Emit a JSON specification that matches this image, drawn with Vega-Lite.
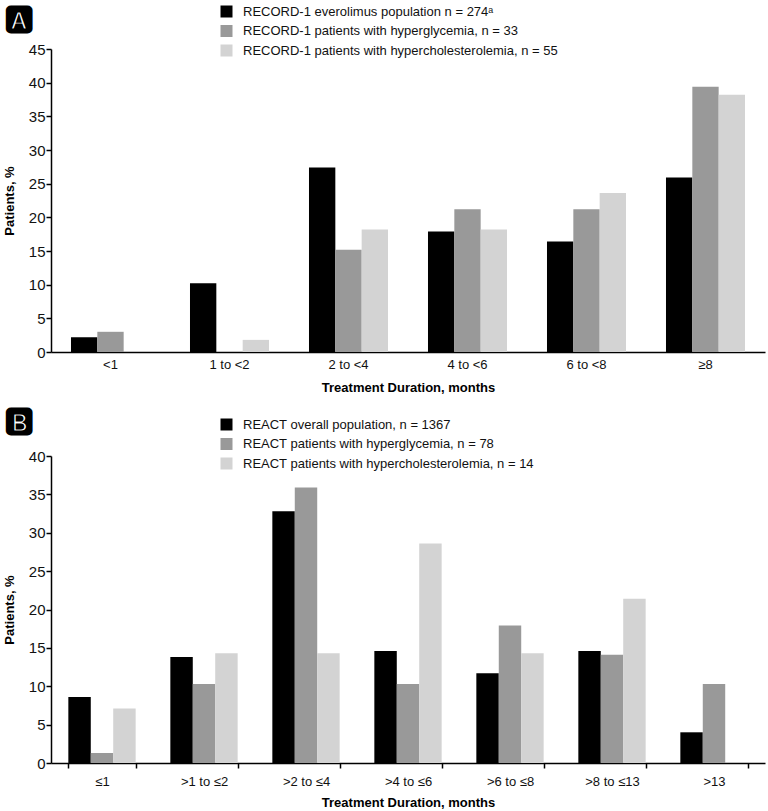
{
  "$schema": "https://vega.github.io/schema/vega-lite/v6.json",
  "padding": {"left": 3, "top": 3, "right": 2, "bottom": 2},
  "spacing": 11,
  "config": {
    "font": "Liberation Sans",
    "view": {"stroke": null},
    "axis": {"labelFont": "Liberation Sans", "labelFontSize": 13, "labelColor": "#111111", "titleFont": "Liberation Sans", "titleFontSize": 13, "titleFontWeight": "bold", "titleColor": "#000000", "domainColor": "#000000", "domainWidth": 1.5, "tickColor": "#000000", "tickWidth": 1.5, "grid": false},
    "legend": {"labelFont": "Liberation Sans", "labelFontSize": 13, "labelColor": "#111111", "symbolType": "square", "symbolSize": 144, "symbolStrokeWidth": 0, "rowPadding": 5.5, "labelOffset": 10, "padding": 0, "labelLimit": 500},
    "title": {"font": "DejaVu Sans", "fontSize": 32, "anchor": "start", "frame": "bounds", "color": "#000000", "dx": 1}
  },
  "datasets": {
    "a": [
      {"duration": "<1", "series": "RECORD-1 everolimus population n = 274ᵃ", "pct": 2.2},
      {"duration": "<1", "series": "RECORD-1 patients with hyperglycemia, n = 33", "pct": 3.0},
      {"duration": "<1", "series": "RECORD-1 patients with hypercholesterolemia, n = 55", "pct": 0},
      {"duration": "1 to <2", "series": "RECORD-1 everolimus population n = 274ᵃ", "pct": 10.2},
      {"duration": "1 to <2", "series": "RECORD-1 patients with hyperglycemia, n = 33", "pct": 0},
      {"duration": "1 to <2", "series": "RECORD-1 patients with hypercholesterolemia, n = 55", "pct": 1.8},
      {"duration": "2 to <4", "series": "RECORD-1 everolimus population n = 274ᵃ", "pct": 27.4},
      {"duration": "2 to <4", "series": "RECORD-1 patients with hyperglycemia, n = 33", "pct": 15.2},
      {"duration": "2 to <4", "series": "RECORD-1 patients with hypercholesterolemia, n = 55", "pct": 18.2},
      {"duration": "4 to <6", "series": "RECORD-1 everolimus population n = 274ᵃ", "pct": 17.9},
      {"duration": "4 to <6", "series": "RECORD-1 patients with hyperglycemia, n = 33", "pct": 21.2},
      {"duration": "4 to <6", "series": "RECORD-1 patients with hypercholesterolemia, n = 55", "pct": 18.2},
      {"duration": "6 to <8", "series": "RECORD-1 everolimus population n = 274ᵃ", "pct": 16.4},
      {"duration": "6 to <8", "series": "RECORD-1 patients with hyperglycemia, n = 33", "pct": 21.2},
      {"duration": "6 to <8", "series": "RECORD-1 patients with hypercholesterolemia, n = 55", "pct": 23.6},
      {"duration": "≥8", "series": "RECORD-1 everolimus population n = 274ᵃ", "pct": 25.9},
      {"duration": "≥8", "series": "RECORD-1 patients with hyperglycemia, n = 33", "pct": 39.4},
      {"duration": "≥8", "series": "RECORD-1 patients with hypercholesterolemia, n = 55", "pct": 38.2}
    ],
    "b": [
      {"duration": "≤1", "series": "REACT overall population, n = 1367", "pct": 8.6},
      {"duration": "≤1", "series": "REACT patients with hyperglycemia, n = 78", "pct": 1.3},
      {"duration": "≤1", "series": "REACT patients with hypercholesterolemia, n = 14", "pct": 7.1},
      {"duration": ">1 to ≤2", "series": "REACT overall population, n = 1367", "pct": 13.8},
      {"duration": ">1 to ≤2", "series": "REACT patients with hyperglycemia, n = 78", "pct": 10.3},
      {"duration": ">1 to ≤2", "series": "REACT patients with hypercholesterolemia, n = 14", "pct": 14.3},
      {"duration": ">2 to ≤4", "series": "REACT overall population, n = 1367", "pct": 32.8},
      {"duration": ">2 to ≤4", "series": "REACT patients with hyperglycemia, n = 78", "pct": 35.9},
      {"duration": ">2 to ≤4", "series": "REACT patients with hypercholesterolemia, n = 14", "pct": 14.3},
      {"duration": ">4 to ≤6", "series": "REACT overall population, n = 1367", "pct": 14.6},
      {"duration": ">4 to ≤6", "series": "REACT patients with hyperglycemia, n = 78", "pct": 10.3},
      {"duration": ">4 to ≤6", "series": "REACT patients with hypercholesterolemia, n = 14", "pct": 28.6},
      {"duration": ">6 to ≤8", "series": "REACT overall population, n = 1367", "pct": 11.7},
      {"duration": ">6 to ≤8", "series": "REACT patients with hyperglycemia, n = 78", "pct": 17.9},
      {"duration": ">6 to ≤8", "series": "REACT patients with hypercholesterolemia, n = 14", "pct": 14.3},
      {"duration": ">8 to ≤13", "series": "REACT overall population, n = 1367", "pct": 14.6},
      {"duration": ">8 to ≤13", "series": "REACT patients with hyperglycemia, n = 78", "pct": 14.1},
      {"duration": ">8 to ≤13", "series": "REACT patients with hypercholesterolemia, n = 14", "pct": 21.4},
      {"duration": ">13", "series": "REACT overall population, n = 1367", "pct": 4.0},
      {"duration": ">13", "series": "REACT patients with hyperglycemia, n = 78", "pct": 10.3},
      {"duration": ">13", "series": "REACT patients with hypercholesterolemia, n = 14", "pct": 0}
    ]
  },
  "vconcat": [
    {
      "title": {"text": "🅰", "offset": -31},
      "width": 714,
      "height": 303,
      "data": {"name": "a"},
      "mark": {"type": "bar"},
      "encoding": {
        "x": {"field": "duration", "type": "nominal", "sort": ["<1", "1 to <2", "2 to <4", "4 to <6", "6 to <8", "≥8"], "scale": {"paddingInner": 0.336, "paddingOuter": 0.168}, "axis": {"title": "Treatment Duration, months", "labelAngle": 0, "ticks": false, "labelPadding": 6, "titlePadding": 10}},
        "xOffset": {"field": "series", "type": "nominal", "sort": ["RECORD-1 everolimus population n = 274ᵃ", "RECORD-1 patients with hyperglycemia, n = 33", "RECORD-1 patients with hypercholesterolemia, n = 55"], "scale": {"paddingInner": 0, "paddingOuter": 0}},
        "y": {"field": "pct", "type": "quantitative", "scale": {"domain": [0, 45]}, "axis": {"title": "Patients, %", "values": [0, 5, 10, 15, 20, 25, 30, 35, 40, 45], "tickSize": 5, "labelPadding": 1, "labelFontSize": 15, "titlePadding": 12}},
        "color": {"field": "series", "type": "nominal", "sort": ["RECORD-1 everolimus population n = 274ᵃ", "RECORD-1 patients with hyperglycemia, n = 33", "RECORD-1 patients with hypercholesterolemia, n = 55"], "scale": {"range": ["#000000", "#999999", "#d3d3d3"]}, "legend": {"title": null, "orient": "none", "legendX": 169, "legendY": -44}}
      }
    },
    {
      "title": {"text": "🅱", "offset": -20},
      "width": 714,
      "height": 307,
      "data": {"name": "b"},
      "mark": {"type": "bar"},
      "encoding": {
        "x": {"field": "duration", "type": "nominal", "sort": ["≤1", ">1 to ≤2", ">2 to ≤4", ">4 to ≤6", ">6 to ≤8", ">8 to ≤13", ">13"], "scale": {"paddingInner": 0.34, "paddingOuter": 0.17}, "axis": {"title": "Treatment Duration, months", "labelAngle": 0, "ticks": true, "tickBand": "extent", "tickSize": 5, "labelPadding": 7, "titlePadding": 8}},
        "xOffset": {"field": "series", "type": "nominal", "sort": ["REACT overall population, n = 1367", "REACT patients with hyperglycemia, n = 78", "REACT patients with hypercholesterolemia, n = 14"], "scale": {"paddingInner": 0, "paddingOuter": 0}},
        "y": {"field": "pct", "type": "quantitative", "scale": {"domain": [0, 40]}, "axis": {"title": "Patients, %", "values": [0, 5, 10, 15, 20, 25, 30, 35, 40], "tickSize": 5, "labelPadding": 1, "labelFontSize": 15, "titlePadding": 12}},
        "color": {"field": "series", "type": "nominal", "sort": ["REACT overall population, n = 1367", "REACT patients with hyperglycemia, n = 78", "REACT patients with hypercholesterolemia, n = 14"], "scale": {"range": ["#000000", "#999999", "#d3d3d3"]}, "legend": {"title": null, "orient": "none", "legendX": 169, "legendY": -38}}
      }
    }
  ],
  "resolve": {"scale": {"color": "independent", "xOffset": "independent"}, "legend": {"color": "independent"}}
}
